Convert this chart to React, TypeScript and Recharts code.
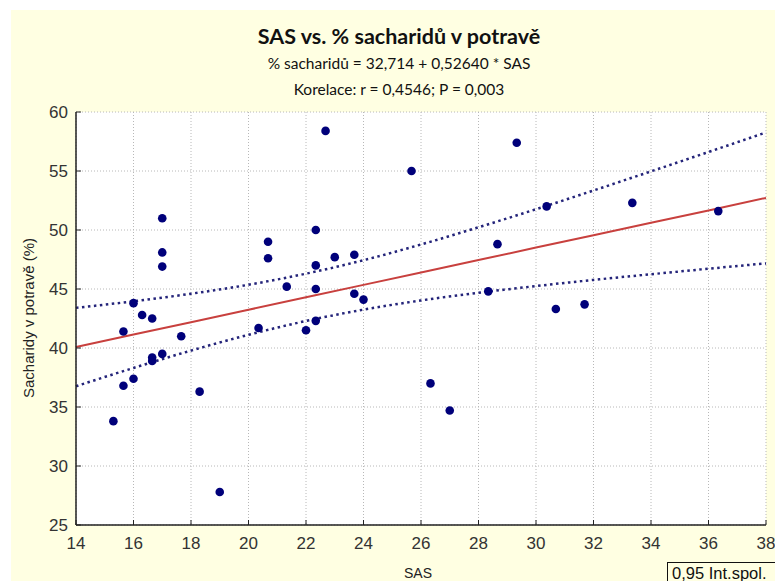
import { ComposedChart, Scatter, Line, XAxis, YAxis, CartesianGrid } from 'recharts';

// SAS (x) vs. % sacharidů (y)
const sasValues = [
  15.3, 15.65, 15.65, 16.0, 16.0, 16.3, 16.65, 16.65, 16.65, 17.0, 17.0, 17.0, 17.0, 17.66,
  18.3, 19.0, 20.35, 20.68, 20.68, 21.33, 22.0, 22.34, 22.34, 22.34, 22.34, 22.68, 23.0,
  23.68, 23.68, 24.0, 25.67, 26.33, 27.0, 28.34, 28.66, 29.33, 30.37, 30.69, 31.69, 33.35, 36.34,
];
const sacharidyValues = [
  33.8, 41.4, 36.8, 43.8, 37.4, 42.8, 42.5, 39.2, 38.9, 51.0, 48.1, 46.9, 39.5, 41.0,
  36.3, 27.8, 41.7, 49.0, 47.6, 45.2, 41.5, 50.0, 47.0, 45.0, 42.3, 58.4, 47.7,
  47.9, 44.6, 44.1, 55.0, 37.0, 34.7, 44.8, 48.8, 57.4, 52.0, 43.3, 43.7, 52.3, 51.6,
];

// fitted line and 0,95 confidence band, read at the x ticks
const bandX = [14, 16, 18, 20, 22, 24, 26, 28, 30, 32, 34, 36, 38];
const fitValues = [40.08, 41.14, 42.19, 43.24, 44.3, 45.35, 46.4, 47.45, 48.51, 49.56, 50.61, 51.66, 52.72];
const upperValues = [43.4, 43.96, 44.6, 45.36, 46.3, 47.44, 48.77, 50.23, 51.76, 53.35, 54.97, 56.61, 58.27];
const lowerValues = [36.76, 38.31, 39.78, 41.12, 42.29, 43.25, 44.03, 44.68, 45.25, 45.77, 46.25, 46.72, 47.17];

const xTicks = [14, 16, 18, 20, 22, 24, 26, 28, 30, 32, 34, 36, 38];
const yTicks = [25, 30, 35, 40, 45, 50, 55, 60];

const points = sasValues.map((x, i) => ({ x, y: sacharidyValues[i] }));
const bandData = bandX.map((x, i) => ({
  x,
  fit: fitValues[i],
  upper: upperValues[i],
  lower: lowerValues[i],
}));

const CREAM = '#ffffe2';
const NAVY = '#00007a';
const AXIS = '#222';
const ARIAL = 'Liberation Sans, Arial, sans-serif';
const tickStyle = { fill: '#333', fontSize: 17, fontFamily: ARIAL };

const titleStyle = (top: number, size: number, bold = false) => ({
  position: 'absolute' as const,
  left: 0,
  width: 798,
  top,
  textAlign: 'center' as const,
  fontFamily: 'Lato, sans-serif',
  fontWeight: bold ? 'bold' : 'normal',
  fontSize: size,
  lineHeight: 1,
  color: '#111',
  whiteSpace: 'nowrap' as const,
});

export default function App() {
  return (
    <div style={{ position: 'absolute', left: 0, top: 0, width: 775, height: 581, background: '#fff', overflow: 'hidden' }}>
      <div style={{ position: 'absolute', left: 11, top: 10, width: 764, height: 571, background: CREAM }} />

      {/* titulky */}
      <div style={titleStyle(26, 21.5, true)}>SAS vs. % sacharidů v potravě</div>
      <div style={titleStyle(56, 15.5)}>% sacharidů = 32,714 + 0,52640 * SAS</div>
      <div style={titleStyle(82, 15.5)}>Korelace: r = 0,4546; P = 0,003</div>

      <div style={{ position: 'absolute', left: 0, top: 0 }}>
        <ComposedChart
          width={775}
          height={581}
          data={bandData}
          margin={{ top: 112, right: 9, bottom: 26, left: 16 }}
        >
          <CartesianGrid
            fill="#fff"
            stroke="#b8b8b8"
            strokeDasharray="1 2"
            horizontalValues={yTicks}
            verticalValues={xTicks}
          />
          <XAxis
            dataKey="x"
            type="number"
            domain={[14, 38]}
            ticks={xTicks}
            height={30}
            tick={tickStyle}
            tickSize={-5}
            tickMargin={17}
            axisLine={{ stroke: AXIS, strokeWidth: 1.5 }}
            tickLine={{ stroke: AXIS }}
            interval={0}
          />
          <XAxis
            xAxisId="top"
            orientation="top"
            dataKey="x"
            type="number"
            domain={[14, 38]}
            ticks={xTicks}
            height={0}
            tick={false}
            tickSize={-5}
            axisLine={{ stroke: AXIS, strokeWidth: 1.5 }}
            tickLine={{ stroke: AXIS }}
          />
          <YAxis
            type="number"
            domain={[25, 60]}
            ticks={yTicks}
            width={60}
            tick={tickStyle}
            tickSize={-5}
            tickMargin={13}
            axisLine={{ stroke: AXIS, strokeWidth: 1.5 }}
            tickLine={{ stroke: AXIS }}
            interval={0}
          />
          <YAxis
            yAxisId="right"
            orientation="right"
            type="number"
            domain={[25, 60]}
            ticks={yTicks}
            width={0}
            tick={false}
            tickSize={-5}
            axisLine={{ stroke: AXIS, strokeWidth: 1.5 }}
            tickLine={{ stroke: AXIS }}
          />
          <Line
            dataKey="upper"
            type="monotone"
            stroke="#24247a"
            strokeWidth={2.5}
            strokeDasharray="2.5 3.5"
            dot={false}
            activeDot={false}
            isAnimationActive={false}
          />
          <Line
            dataKey="lower"
            type="monotone"
            stroke="#24247a"
            strokeWidth={2.5}
            strokeDasharray="2.5 3.5"
            dot={false}
            activeDot={false}
            isAnimationActive={false}
          />
          <Line
            dataKey="fit"
            type="linear"
            stroke="#c8403e"
            strokeWidth={2}
            dot={false}
            activeDot={false}
            isAnimationActive={false}
          />
          <Scatter data={points} dataKey="y" fill={NAVY} shape={(p: any) => <circle cx={p.cx} cy={p.cy} r={4.3} fill={NAVY} />} isAnimationActive={false} />
        </ComposedChart>
      </div>

      {/* popisky os */}
      <div style={{ position: 'absolute', left: 28, top: 318, transform: 'translate(-50%, -50%) rotate(-90deg)', whiteSpace: 'nowrap', fontFamily: ARIAL, fontSize: 15, color: '#222' }}>
        Sacharidy v potravě (%)
      </div>
      <div style={{ position: 'absolute', left: 418, top: 573, transform: 'translate(-50%, -50%)', fontFamily: ARIAL, fontSize: 14, color: '#222' }}>
        SAS
      </div>

      {/* legenda */}
      <div style={{ position: 'absolute', left: 667, top: 562, width: 120, height: 30, border: '1px solid #111', background: CREAM, boxSizing: 'border-box', paddingLeft: 4, paddingTop: 1, fontFamily: ARIAL, fontSize: 16.5, color: '#111', whiteSpace: 'nowrap' }}>
        0,95 Int.spol.
      </div>
    </div>
  );
}
